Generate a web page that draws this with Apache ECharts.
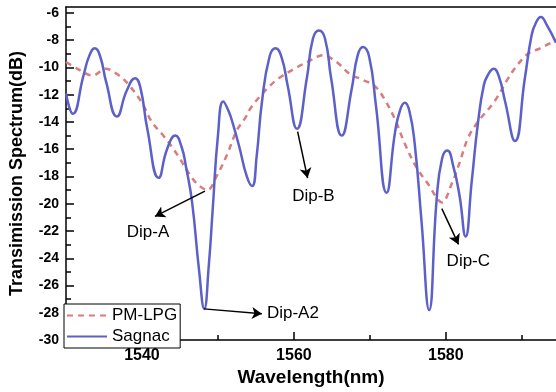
<!DOCTYPE html>
<html>
<head>
<meta charset="utf-8">
<script src="https://cdn.jsdelivr.net/npm/echarts@6/dist/echarts.min.js"></script>
<style>html,body{margin:0;padding:0;background:#fff}#c{width:556px;height:392px}</style>
</head>
<body>
<div id="c"></div>
<script>
// ---- data ----
const sagnacData = [
  [1530.0, -11.9], [1530.9, -13.4], [1532.3, -10.6], [1533.1, -9.1], [1533.8, -8.6],
  [1534.5, -9.2], [1535.3, -11.1], [1536.7, -13.6], [1538.0, -11.7], [1539.1, -10.8],
  [1539.8, -11.5], [1540.7, -14.5], [1542.2, -18.1], [1543.3, -16.0], [1544.4, -15.0],
  [1545.2, -15.8], [1545.8, -17.3], [1546.6, -19.9], [1547.5, -24.8],
  [1548.2, -27.7], [1548.8, -24.5], [1549.3, -20.5], [1550.0, -15.0], [1550.7, -12.5],
  [1551.4, -13.2], [1552.0, -14.2], [1552.8, -15.8], [1553.8, -18.0], [1554.5, -18.7],
  [1555.1, -16.5], [1555.8, -12.5], [1556.8, -9.2], [1557.6, -8.6], [1558.4, -9.3],
  [1559.2, -11.4], [1560.4, -14.5], [1561.7, -10.8], [1562.5, -7.9], [1563.3, -7.3],
  [1564.1, -7.9], [1564.9, -10.8], [1566.3, -15.0], [1567.6, -11.6], [1568.4, -9.1],
  [1569.1, -8.5], [1569.9, -9.2], [1570.8, -12.8], [1572.2, -19.2], [1573.3, -14.8],
  [1574.0, -13.1], [1574.6, -12.6], [1575.2, -13.2], [1575.9, -15.6], [1576.8, -21.3],
  [1577.8, -27.8], [1578.8, -19.6], [1579.5, -16.7], [1580.2, -16.1], [1581.0, -17.3],
  [1581.8, -19.4], [1582.6, -22.4], [1583.4, -18.4], [1584.2, -14.2], [1585.0, -11.3],
  [1585.6, -10.5], [1586.3, -10.1], [1587.0, -10.7], [1587.8, -12.5], [1589.1, -15.4],
  [1590.4, -10.8], [1591.3, -7.6], [1591.8, -6.8], [1592.5, -6.3], [1593.3, -6.9],
  [1594.5, -8.2]
];
const pmlpgData = [
  [1530.0, -9.6], [1531.5, -10.1], [1533.5, -10.6], [1535.2, -10.1], [1537.0, -10.6],
  [1538.3, -11.3], [1540.0, -12.6], [1541.3, -14.0], [1542.8, -15.0], [1543.9, -15.8],
  [1545.0, -16.7], [1546.1, -17.7], [1547.2, -18.5], [1548.6, -19.0], [1549.9, -17.9],
  [1551.2, -16.4], [1552.5, -14.6], [1553.6, -13.7], [1554.4, -12.9], [1556.4, -11.6],
  [1558.0, -10.8], [1560.4, -10.0], [1562.1, -9.5], [1563.8, -9.1], [1565.6, -9.6],
  [1567.4, -10.5], [1569.0, -10.9], [1570.7, -11.4], [1572.0, -12.4], [1573.3, -13.8],
  [1574.6, -15.6], [1576.2, -17.4], [1577.6, -18.5], [1579.5, -19.9], [1580.8, -18.5],
  [1581.8, -17.0], [1582.9, -15.2], [1584.2, -14.0], [1586.4, -12.5], [1588.2, -10.8],
  [1589.3, -9.9], [1590.8, -9.0], [1592.4, -8.6], [1594.5, -8.0]
];
const xMajorTicks = [1540, 1560, 1580];
const xMinorTicks = [1550, 1570, 1590];
const yMajorTicks = [-30, -28, -26, -24, -22, -20, -18, -16, -14, -12, -10, -8, -6];
const yMinorTicks = [-29, -27, -25, -23, -21, -19, -17, -15, -13, -11, -9, -7];
const seriesNames = ['PM-LPG', 'Sagnac'];
// arrows: [fromX, fromY, toX, toY]
const arrows = [
  [1548.29, -19.07, 1541.71, -20.93],
  [1548.16, -27.71, 1555.79, -28.07],
  [1560.49, -14.71, 1561.80, -18.12],
  [1579.47, -20.36, 1581.67, -22.98]
];
const dipLabels = ['Dip-A', 'Dip-A2', 'Dip-B', 'Dip-C'];
const dipLabelPos = [
  [1540.79, -22.07], [1559.87, -28.07], [1562.57, -19.43], [1582.96, -24.25]
];

const FONT = '"Liberation Sans", Arial, sans-serif';
const chart = echarts.init(document.getElementById('c'), null, {renderer: 'canvas'});
const axisLineStyle = {color: '#000', width: 1.5};
const X_MIN = 1530, X_MAX = 1594.5, Y_MIN = -30, Y_MAX = -5.57;

chart.setOption({
  animation: false,
  backgroundColor: '#fff',
  textStyle: {fontFamily: FONT},
  grid: {left: 66, right: 0, top: 7, bottom: 43, containLabel: false},
  legend: {
    data: seriesNames,
    orient: 'vertical',
    left: 64, top: 304,
    itemWidth: 40, itemHeight: 14, itemGap: 4,
    padding: [3, 3, 3, 2],
    borderColor: '#000', borderWidth: 1,
    backgroundColor: '#fff',
    itemStyle: {color: 'rgba(0,0,0,0)', borderColor: 'rgba(0,0,0,0)', borderWidth: 0, opacity: 0},
    textStyle: {fontFamily: FONT, fontSize: 17, lineHeight: 16, color: '#000'}
  },
  xAxis: [
    {
      type: 'value', min: X_MIN, max: X_MAX, position: 'bottom',
      axisLine: {show: true, onZero: false, lineStyle: axisLineStyle},
      axisTick: {show: true, inside: true, length: 8, customValues: xMajorTicks, lineStyle: {color: '#000', width: 1.5}},
      axisLabel: {customValues: xMajorTicks, formatter: v => String(v), fontFamily: FONT, fontSize: 16, fontWeight: 'bold', color: '#000', margin: 7},
      splitLine: {show: false},
      name: 'Wavelength(nm)', nameLocation: 'middle', nameGap: 21,
      nameTextStyle: {fontFamily: FONT, fontSize: 19, fontWeight: 'bold', color: '#000'}
    },
    {
      type: 'value', min: X_MIN, max: X_MAX, position: 'bottom',
      axisLine: {show: false, onZero: false},
      axisTick: {show: true, inside: true, length: 5, customValues: xMinorTicks, lineStyle: {color: '#000', width: 1.5}},
      axisLabel: {show: false},
      splitLine: {show: false}
    },
    {
      type: 'value', min: X_MIN, max: X_MAX, position: 'top',
      axisLine: {show: true, onZero: false, lineStyle: axisLineStyle},
      axisTick: {show: false}, axisLabel: {show: false}, splitLine: {show: false}
    }
  ],
  yAxis: [
    {
      type: 'value', min: Y_MIN, max: Y_MAX, position: 'left',
      axisLine: {show: true, onZero: false, lineStyle: axisLineStyle},
      axisTick: {show: true, inside: true, length: 8, customValues: yMajorTicks, lineStyle: {color: '#000', width: 1.5}},
      axisLabel: {customValues: yMajorTicks, fontFamily: FONT, fontSize: 14, fontWeight: 'bold', color: '#000', margin: 7},
      splitLine: {show: false},
      name: 'Transimission Spectrum(dB)', nameLocation: 'middle', nameGap: 40, nameRotate: 90,
      nameTextStyle: {fontFamily: FONT, fontSize: 18, fontWeight: 'bold', color: '#000'}
    },
    {
      type: 'value', min: Y_MIN, max: Y_MAX, position: 'left',
      axisLine: {show: false, onZero: false},
      axisTick: {show: true, inside: true, length: 5, customValues: yMinorTicks, lineStyle: {color: '#000', width: 1.5}},
      axisLabel: {show: false}, splitLine: {show: false}
    }
  ],
  series: [
    {
      name: seriesNames[0], type: 'line', xAxisIndex: 0, yAxisIndex: 0,
      data: pmlpgData, symbol: 'none', smooth: 0.35,
      lineStyle: {color: '#d97c7c', width: 2.5, type: [6, 5]},
      itemStyle: {color: '#d97c7c'},
      z: 2
    },
    {
      name: seriesNames[1], type: 'line', xAxisIndex: 0, yAxisIndex: 0,
      data: sagnacData, symbol: 'none', smooth: 0.5,
      lineStyle: {color: '#5c60c8', width: 2.5},
      itemStyle: {color: '#5c60c8'},
      z: 3,
      markLine: {
        silent: true, animation: false,
        symbol: ['none', 'arrow'], symbolSize: [9, 10],
        label: {show: false},
        lineStyle: {color: '#000', width: 1.5, type: 'solid'},
        itemStyle: {color: '#000'},
        emphasis: {disabled: true},
        data: arrows.map(a => [{coord: [a[0], a[1]]}, {coord: [a[2], a[3]]}])
      },
      markPoint: {
        silent: true, animation: false,
        symbol: 'rect', symbolSize: 1,
        itemStyle: {color: 'rgba(0,0,0,0)'},
        label: {show: true, position: 'inside', formatter: p => p.name, color: '#000', fontFamily: FONT, fontSize: 17},
        data: dipLabels.map((n, i) => ({name: n, coord: dipLabelPos[i]}))
      }
    }
  ]
});
</script>
</body>
</html>
